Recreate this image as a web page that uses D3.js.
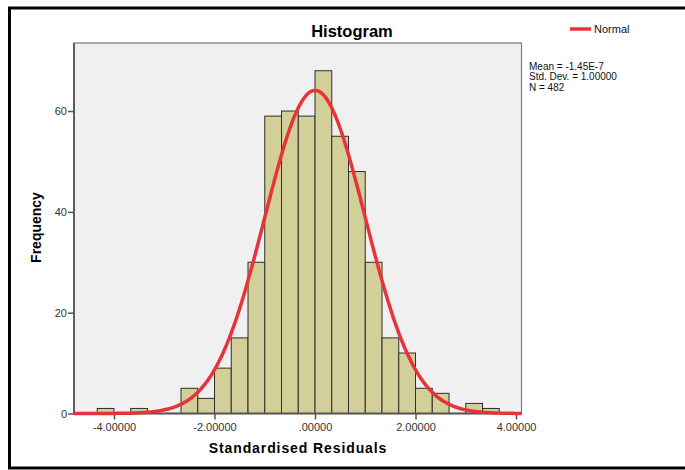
<!DOCTYPE html>
<html>
<head>
<meta charset="utf-8">
<script src="https://cdn.jsdelivr.net/npm/d3@7"></script>
<style>
  html, body { margin: 0; padding: 0; background: #fff; }
  svg { display: block; font-family: "Liberation Sans", Arial, sans-serif; }
</style>
</head>
<body>
<svg id="chart" width="685" height="470"></svg>
<script>
// bins of width 1/3, lower edge of each bin
const binLow = [-13, -11, -8, -7, -6, -5, -4, -3, -2, -1, 0, 1, 2, 3, 4, 5, 6, 7, 9, 10].map((k) => k / 3);
const counts = [1, 1, 5, 3, 9, 15, 30, 59, 60, 59, 68, 55, 48, 30, 15, 12, 5, 4, 2, 1];
const binWidth = 1 / 3;

const xTicks = [-4, -2, 0, 2, 4];
const xTickLabels = ["-4.00000", "-2.00000", ".00000", "2.00000", "4.00000"];
const yTicks = [0, 20, 40, 60];

const statLines = ["Mean = -1.45E-7", "Std. Dev. = 1.00000", "N = 482"];
const mean = -1.45e-7, sd = 1.0, n = 482;

(() => {
  const svg = d3.select("#chart");
  const left = 74, right = 521.5, top = 43, bottom = 413.5;

  const x = d3.scaleLinear().domain([-4.796, 4.109]).range([left, right]);
  const y = d3.scaleLinear().domain([0, 73.5]).range([bottom, top]);

  // outer frame
  svg.append("rect").attr("x", 9.5).attr("y", 8).attr("width", 700).attr("height", 460)
    .attr("fill", "#fff").attr("stroke", "#000").attr("stroke-width", 3);

  // plot area
  svg.append("rect").attr("x", left).attr("y", top).attr("width", right - left).attr("height", bottom - top)
    .attr("fill", "#f0f0f0").attr("stroke", "#7a7a7a").attr("stroke-width", 1.2);

  // bars
  svg.append("g").selectAll("rect").data(binLow).enter().append("rect")
    .attr("x", (d) => x(d))
    .attr("width", (d) => x(d + binWidth) - x(d))
    .attr("y", (_d, i) => y(counts[i]))
    .attr("height", (_d, i) => y(0) - y(counts[i]))
    .attr("fill", "#d3cf98").attr("stroke", "#2e2e2e").attr("stroke-width", 1);

  // axes
  const xAxis = svg.append("g").attr("transform", `translate(0,${bottom})`)
    .call(d3.axisBottom(x).tickValues(xTicks).tickSize(6).tickPadding(4).tickFormat((_d, i) => xTickLabels[i]));
  const yAxis = svg.append("g").attr("transform", `translate(${left},0)`)
    .call(d3.axisLeft(y).tickValues(yTicks).tickSize(6).tickPadding(1));
  [xAxis, yAxis].forEach((g) => {
    g.select(".domain").remove();
    g.selectAll("line").attr("stroke", "#555").attr("stroke-width", 1.5);
    g.selectAll("text").attr("fill", "#333").style("font-size", "11px").style("font-family", "'Liberation Sans', Arial, sans-serif");
  });
  svg.append("line").attr("x1", left).attr("x2", left).attr("y1", top).attr("y2", bottom)
    .attr("stroke", "#555").attr("stroke-width", 1.8);
  svg.append("line").attr("x1", left).attr("x2", right).attr("y1", bottom).attr("y2", bottom)
    .attr("stroke", "#555").attr("stroke-width", 1.8);

  // fitted normal curve from the stated mean, sd and N
  const pts = d3.range(0, 401).map((i) => {
    const v = -4.796 + (i / 400) * (4.109 + 4.796);
    const z = (v - mean) / sd;
    return [v, n * binWidth * Math.exp(-0.5 * z * z) / (sd * Math.sqrt(2 * Math.PI))];
  });
  svg.append("path").datum(pts)
    .attr("d", d3.line().x((d) => x(d[0])).y((d) => y(d[1])))
    .attr("fill", "none").attr("stroke", "#e8333b").attr("stroke-width", 3.5);

  // titles
  svg.append("text").attr("x", 352).attr("y", 37).attr("text-anchor", "middle")
    .style("font-size", "16.5px").style("font-weight", "bold").text("Histogram");
  svg.append("text").attr("x", 298).attr("y", 453).attr("text-anchor", "middle")
    .style("font-size", "14px").style("font-weight", "bold").style("letter-spacing", "0.9px")
    .text("Standardised Residuals");
  svg.append("text").attr("transform", "translate(40.5,227.5) rotate(-90)").attr("text-anchor", "middle")
    .style("font-size", "14px").style("font-weight", "bold").text("Frequency");

  // legend
  svg.append("line").attr("x1", 570).attr("x2", 591).attr("y1", 29).attr("y2", 29)
    .attr("stroke", "#e8333b").attr("stroke-width", 3.5);
  svg.append("text").attr("x", 594).attr("y", 33).style("font-size", "11px").attr("fill", "#111").text("Normal");
  svg.append("g").selectAll("text").data(statLines).enter().append("text")
    .attr("x", 529).attr("y", (_d, i) => 69.5 + i * 10.5)
    .style("font-size", "10px").attr("fill", "#111").text((d) => d);
})();
</script>
</body>
</html>
